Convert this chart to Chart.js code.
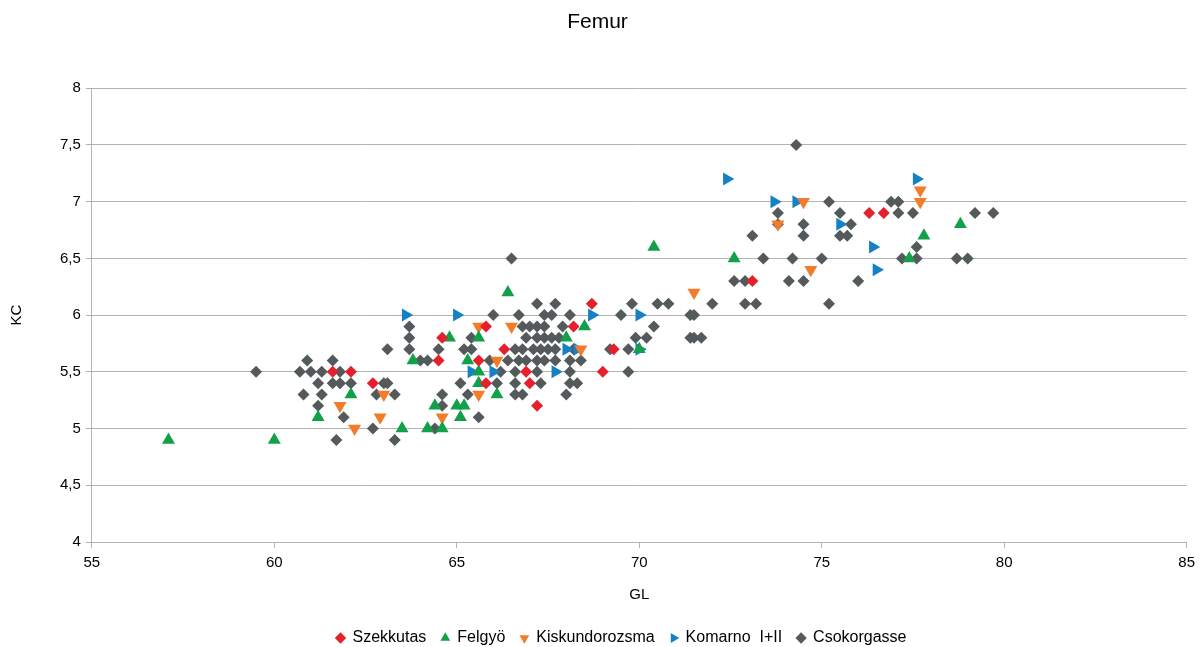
<!DOCTYPE html>
<html>
<head>
<meta charset="utf-8">
<script src="https://cdn.jsdelivr.net/npm/chart.js@4.4.1/dist/chart.umd.min.js"></script>
<style>
html,body{margin:0;padding:0;background:#fff;}
#wrap{width:1201px;height:647px;position:relative;}
</style>
</head>
<body>
<div id="wrap"><canvas id="c" width="1201" height="647"></canvas></div>
<script>
const chartTitle = "Femur";
const xTitle = "GL";
const yTitle = "KC";
const seriesNames = ["Szekkutas", "Felgyö", "Kiskundorozsma", "Komarno  I+II", "Csokorgasse"];
const yTickLabels = ["4", "4,5", "5", "5,5", "6", "6,5", "7", "7,5", "8"];
const xTickLabels = ["55", "60", "65", "70", "75", "80", "85"];

const szekkutas = [
  [61.6,5.5],[62.1,5.5],[62.7,5.4],[64.5,5.6],[64.6,5.8],[65.6,5.6],[65.8,5.9],[65.8,5.4],
  [66.3,5.7],[66.9,5.5],[67.0,5.4],[67.2,5.2],[68.2,5.9],[68.7,6.1],[69.0,5.5],[69.3,5.7],
  [73.1,6.3],[76.3,6.9],[76.7,6.9]
];
const felgyo = [
  [57.1,4.9],[60.0,4.9],[61.2,5.1],[62.1,5.3],[63.5,5.0],[63.8,5.6],[64.2,5.0],[64.4,5.2],
  [64.6,5.0],[64.8,5.8],[65.0,5.2],[65.1,5.1],[65.2,5.2],[65.3,5.6],[65.6,5.8],[65.6,5.5],
  [65.6,5.4],[66.1,5.3],[66.4,6.2],[68.0,5.8],[68.5,5.9],[70.0,5.7],[70.4,6.6],[72.6,6.5],
  [77.4,6.5],[77.8,6.7],[78.8,6.8]
];
const kiskundorozsma = [
  [61.8,5.2],[62.2,5.0],[62.9,5.1],[63.0,5.3],[64.6,5.1],[65.6,5.9],[65.6,5.3],[66.1,5.6],
  [66.5,5.9],[68.4,5.7],[71.5,6.2],[73.8,6.8],[74.5,7.0],[74.7,6.4],[77.7,7.1],[77.7,7.0]
];
const komarno = [
  [63.6,6.0],[65.0,6.0],[65.4,5.5],[66.0,5.5],[67.7,5.5],[68.0,5.7],[68.3,5.7],[68.7,6.0],
  [70.0,6.0],[70.0,5.7],[72.4,7.2],[73.7,7.0],[74.3,7.0],[75.5,6.8],[76.4,6.6],[76.5,6.4],
  [77.6,7.2]
];
const csokorgasse = [
  [59.5,5.5],
  [60.7,5.5],[60.8,5.3],[60.9,5.6],[61.0,5.5],[61.2,5.4],[61.2,5.2],[61.3,5.5],[61.3,5.3],
  [61.6,5.6],[61.6,5.4],[61.7,4.9],[61.8,5.5],[61.8,5.4],[61.9,5.1],[62.1,5.4],
  [62.7,5.0],[62.8,5.3],[63.0,5.4],[63.1,5.4],[63.1,5.7],[63.3,5.3],[63.3,4.9],
  [63.7,5.9],[63.7,5.8],[63.7,5.7],[64.0,5.6],[64.2,5.6],[64.4,5.0],[64.5,5.7],[64.6,5.3],[64.6,5.2],
  [65.1,5.4],[65.2,5.7],[65.3,5.3],[65.4,5.8],[65.4,5.7],[65.6,5.1],[65.9,5.6],[66.0,6.0],[66.1,5.4],[66.2,5.5],
  [66.4,5.6],[66.5,6.5],[66.6,5.7],[66.6,5.5],[66.6,5.4],[66.6,5.3],[66.7,6.0],[66.7,5.6],[66.8,5.9],
  [66.8,5.7],[66.8,5.3],[66.9,5.8],[66.9,5.6],
  [67.0,5.9],[67.1,5.7],[67.2,6.1],[67.2,5.9],[67.2,5.8],[67.2,5.6],[67.2,5.5],[67.3,5.7],[67.3,5.4],
  [67.4,6.0],[67.4,5.9],[67.4,5.8],[67.4,5.6],[67.6,6.0],[67.5,5.7],[67.6,5.8],[67.7,6.1],[67.7,5.7],
  [67.7,5.6],[67.8,5.8],[67.9,5.9],
  [68.0,5.3],[68.1,6.0],[68.1,5.6],[68.1,5.5],[68.1,5.4],[68.2,5.7],[68.3,5.4],[68.4,5.6],
  [69.2,5.7],[69.5,6.0],[69.7,5.7],[69.7,5.5],[69.8,6.1],[69.9,5.8],[70.2,5.8],[70.4,5.9],[70.5,6.1],[70.8,6.1],
  [71.4,6.0],[71.5,6.0],[71.4,5.8],[71.5,5.8],[71.7,5.8],[72.0,6.1],[72.6,6.3],[72.9,6.3],[72.9,6.1],
  [73.1,6.7],[73.2,6.1],[73.4,6.5],
  [73.8,6.9],[73.8,6.8],[74.1,6.3],[74.2,6.5],[74.3,7.5],[74.5,6.8],[74.5,6.7],[74.5,6.3],[75.0,6.5],
  [75.2,7.0],[75.2,6.1],[75.5,6.9],[75.5,6.7],[75.7,6.7],[75.8,6.8],[76.0,6.3],
  [76.9,7.0],[77.1,7.0],[77.1,6.9],[77.2,6.5],[77.5,6.9],[77.6,6.6],[77.6,6.5],[78.7,6.5],[79.0,6.5],
  [79.2,6.9],[79.7,6.9]
];

const toPts = arr => arr.map(p => ({x: p[0], y: p[1]}));
const FONT = "'Liberation Sans', Arial, Helvetica, sans-serif";
const gridColor = '#b3b3b3';

const legendShift = {
  id: 'legendShift',
  afterLayout(chart) {
    if (chart.legend) { chart.legend.left += 24; chart.legend.right += 24; }
  }
};

new Chart(document.getElementById('c'), {
  type: 'scatter',
  plugins: [legendShift],
  data: {
    datasets: [
      {label: seriesNames[0], data: toPts(szekkutas), pointStyle: 'rectRot', pointRadius: 6, pointHoverRadius: 6,
       backgroundColor: '#e4202c', borderColor: '#e4202c', borderWidth: 0, pointRotation: 0},
      {label: seriesNames[1], data: toPts(felgyo), pointStyle: 'triangle', pointRadius: 7.5, pointHoverRadius: 7.5,
       backgroundColor: '#13a04a', borderColor: '#13a04a', borderWidth: 0, pointRotation: 0},
      {label: seriesNames[2], data: toPts(kiskundorozsma), pointStyle: 'triangle', pointRadius: 7.5, pointHoverRadius: 7.5,
       backgroundColor: '#f27c2a', borderColor: '#f27c2a', borderWidth: 0, pointRotation: 180},
      {label: seriesNames[3], data: toPts(komarno), pointStyle: 'triangle', pointRadius: 7.5, pointHoverRadius: 7.5,
       backgroundColor: '#1581c5', borderColor: '#1581c5', borderWidth: 0, pointRotation: 90},
      {label: seriesNames[4], data: toPts(csokorgasse), pointStyle: 'rectRot', pointRadius: 6, pointHoverRadius: 6,
       backgroundColor: '#545a5c', borderColor: '#545a5c', borderWidth: 0, pointRotation: 0}
    ]
  },
  options: {
    responsive: false,
    animation: false,
    events: [],
    layout: {padding: {left: 8, right: 14, top: 0, bottom: -9}},
    plugins: {
      title: {display: true, text: chartTitle, color: '#000', font: {family: FONT, size: 21, weight: 'normal'},
              padding: {top: 10, bottom: 53}},
      legend: {position: 'bottom', labels: {usePointStyle: true, boxWidth: 8, boxHeight: 8, color: '#000',
               font: {family: FONT, size: 16}, padding: 15}},
      tooltip: {enabled: false}
    },
    scales: {
      x: {
        type: 'linear', min: 55, max: 85,
        ticks: {stepSize: 5, color: '#000', font: {family: FONT, size: 15}, padding: 6,
                callback: (v, i) => xTickLabels[i]},
        grid: {display: true, drawOnChartArea: false, drawTicks: true, tickLength: 6, color: gridColor},
        border: {display: true, color: gridColor},
        title: {display: true, text: xTitle, color: '#000', font: {family: FONT, size: 15}, padding: {top: 8, bottom: 11}}
      },
      y: {
        type: 'linear', min: 4, max: 8,
        ticks: {stepSize: 0.5, color: '#000', font: {family: FONT, size: 15}, padding: 5,
                callback: (v, i) => yTickLabels[i]},
        grid: {display: true, color: gridColor, drawTicks: true, tickLength: 6, lineWidth: 1},
        border: {display: true, color: gridColor},
        title: {display: true, text: yTitle, color: '#000', font: {family: FONT, size: 15}, padding: {top: 0, bottom: 29}}
      }
    }
  }
});
</script>
</body>
</html>
